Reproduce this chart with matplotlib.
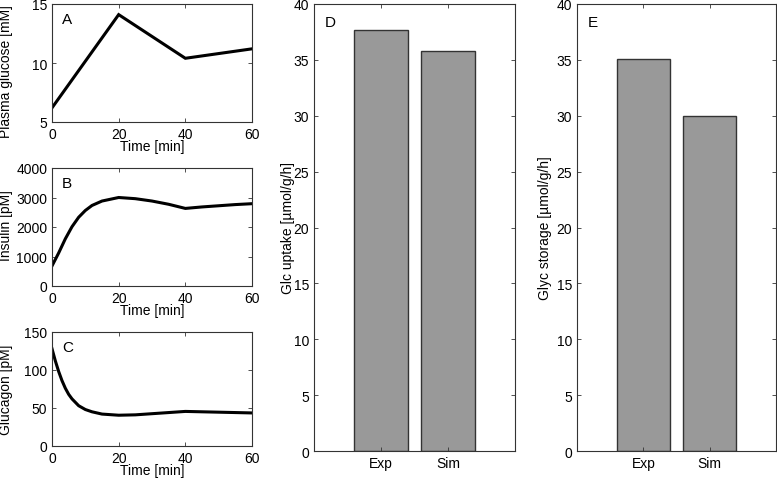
import numpy as np
import matplotlib.pyplot as plt

plt.rcParams['font.family'] = ['Liberation Sans', 'DejaVu Sans']
plt.rcParams['font.size'] = 10

# panel A: plasma glucose
t_glc = [0, 20, 40, 60]
glc = [6.2, 14.1, 10.4, 11.2]

# panel B: insulin
t_ins = [0, 2, 4, 6, 8, 10, 12, 15, 20, 25, 30, 35, 40, 45, 50, 55, 60]
ins = [680, 1120, 1600, 2010, 2330, 2560, 2730, 2880, 3000, 2960, 2880, 2770,
       2630, 2680, 2720, 2760, 2790]

# panel C: glucagon
t_gcg = [0, 1, 2, 3, 4, 5, 6, 8, 10, 12, 15, 20, 25, 30, 35, 40, 45, 50, 55, 60]
gcg = [128, 112, 98, 86, 76, 68, 62, 53, 48, 45, 42, 40.5, 41, 42.5, 44, 45.5,
       45, 44.5, 44, 43.5]

# panels D, E: bars
bar_labels = ['Exp', 'Sim']
uptake = [37.7, 35.8]
storage = [35.1, 30.0]

W, H = 777, 481
fig = plt.figure(figsize=(W / 100, H / 100), dpi=100)


def px_axes(left, top, right, bottom):
    return fig.add_axes([left / W, 1 - bottom / H, (right - left) / W, (bottom - top) / H])


def style(ax):
    for s in ax.spines.values():
        s.set_color('#333333')
        s.set_linewidth(0.8)
    ax.tick_params(direction='in', top=True, right=True, length=3, width=0.6,
                   color='#333333', labelsize=10, pad=3.5)


line_panels = [
    (5, 123, t_glc, glc, (5, 15), [5, 10, 15], 'Plasma glucose [mM]', 'A', 0.44),
    (169, 287, t_ins, ins, (0, 4000), [0, 1000, 2000, 3000, 4000], 'Insulin [pM]', 'B', 0.52),
    (333, 447, t_gcg, gcg, (0, 150), [0, 50, 100, 150], 'Glucagon [pM]', 'C', 0.5),
]
for top, bottom, t, y, ylim, yt, ylab, letter, ylab_y in line_panels:
    ax = px_axes(52, top, 252, bottom)
    ax.plot(t, y, color='black', lw=2.2, solid_joinstyle='miter')
    ax.set_xlim(0, 60)
    ax.set_ylim(*ylim)
    ax.set_xticks([0, 20, 40, 60])
    ax.set_yticks(yt)
    ax.set_xlabel('Time [min]', labelpad=-1)
    ax.set_ylabel(ylab)
    ax.yaxis.set_label_coords(-0.195, ylab_y)
    ax.text(0.05, 0.93, letter, transform=ax.transAxes, fontsize=11,
            va='top', ha='left')
    style(ax)

bar_panels = [
    (314, 515, uptake, 'Glc uptake [µmol/g/h]', 'D', -0.095),
    (577, 776, storage, 'Glyc storage [µmol/g/h]', 'E', -0.125),
]
for left, right, vals, ylab, letter, ylab_x in bar_panels:
    ax = px_axes(left, 5, right, 452)
    x = np.arange(1, len(vals) + 1)
    ax.bar(x, vals, width=0.8, color='#999999', edgecolor='#333333', linewidth=1)
    ax.set_xlim(0, 3)
    ax.set_ylim(0, 40)
    ax.set_yticks(np.arange(0, 41, 5))
    ax.set_xticks(x)
    ax.set_xticklabels(bar_labels)
    ax.set_ylabel(ylab)
    ax.yaxis.set_label_coords(ylab_x, 0.5)
    ax.text(0.055, 0.975, letter, transform=ax.transAxes, fontsize=11,
            va='top', ha='left')
    style(ax)

fig.savefig('out.png', dpi=100)
